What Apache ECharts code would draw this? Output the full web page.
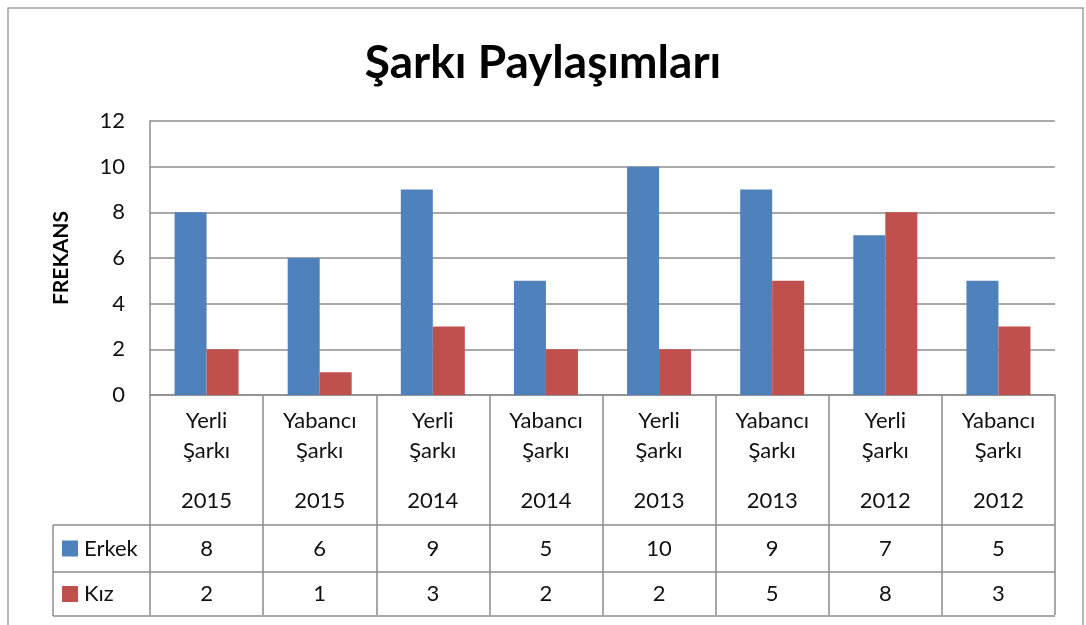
<!DOCTYPE html>
<html>
<head>
<meta charset="utf-8">
<script src="https://cdn.jsdelivr.net/npm/echarts@6/dist/echarts.min.js"></script>
<style>
  html, body { margin: 0; padding: 0; background: #ffffff; }
  #chart { width: 1086px; height: 625px; }
</style>
</head>
<body>
<div id="chart"></div>
<script>
// Song sharing counts by song type and year
const songTypes = ['Yerli', 'Yabancı', 'Yerli', 'Yabancı', 'Yerli', 'Yabancı', 'Yerli', 'Yabancı'];
const years = ['2015', '2015', '2014', '2014', '2013', '2013', '2012', '2012'];
const seriesNames = ['Erkek', 'Kız'];
const erkek = [8, 6, 9, 5, 10, 9, 7, 5];
const kiz = [2, 1, 3, 2, 2, 5, 8, 3];
const yTicks = [0, 2, 4, 6, 8, 10, 12];

const categories = songTypes.map((t, i) => t + '\nŞarkı\n\n' + years[i]);
const colors = ['#4F81BD', '#C0504D'];
const lineColor = '#8c8c8c';
const textColor = '#111111';
const font = 'Lato, "Noto Sans", sans-serif';

const chart = echarts.init(document.getElementById('chart'), null, { renderer: 'canvas' });

const option = {
  animation: false,
  backgroundColor: '#ffffff',
  title: {
    text: 'Şarkı Paylaşımları',
    left: 'center',
    top: 35,
    textStyle: { fontFamily: font, fontWeight: 'bold', fontSize: 46, color: '#000' }
  },
  grid: { left: 150, right: 31, top: 121, bottom: 230, containLabel: false },
  xAxis: {
    type: 'category',
    data: categories,
    axisLine: { show: true, lineStyle: { color: lineColor, width: 1.5 } },
    axisTick: { show: true, interval: 0, length: 220, lineStyle: { color: lineColor, width: 1.5 } },
    axisLabel: {
      interval: 0,
      margin: 11,
      formatter: function (v) {
        const p = v.split('\n');
        return '{a|' + p[0] + '}\n{a|' + p[1] + '}\n{b|}\n{a|' + p[3] + '}';
      },
      rich: {
        a: { fontFamily: font, fontSize: 22, lineHeight: 30, color: textColor, align: 'center' },
        b: { fontSize: 10, lineHeight: 20 }
      }
    }
  },
  yAxis: {
    type: 'value',
    min: yTicks[0],
    max: yTicks[yTicks.length - 1],
    interval: 2,
    name: 'FREKANS',
    nameLocation: 'middle',
    nameRotate: 90,
    nameGap: 78,
    nameTextStyle: { fontFamily: font, fontWeight: 'bold', fontSize: 21, color: '#000' },
    axisLine: { show: true, lineStyle: { color: lineColor, width: 1.5 } },
    axisTick: { show: false },
    axisLabel: { margin: 25, fontFamily: font, fontSize: 22, color: textColor },
    splitLine: { show: true, lineStyle: { color: lineColor, width: 1.5 } }
  },
  series: [
    { name: seriesNames[0], type: 'bar', data: erkek, barWidth: 32, barGap: '0%', itemStyle: { color: colors[0] } },
    { name: seriesNames[1], type: 'bar', data: kiz, barWidth: 32, barGap: '0%', itemStyle: { color: colors[1] } }
  ]
};

chart.setOption(option);

// Data table rows under the category axis, placed from the axis scale
const zeroY = chart.convertToPixel({ yAxisIndex: 0 }, 0);
const x0 = chart.convertToPixel({ xAxisIndex: 0 }, 0);
const colW = chart.convertToPixel({ xAxisIndex: 0 }, 1) - x0;
const plotLeft = x0 - colW / 2;
const plotRight = plotLeft + colW * categories.length;
const rowTop = zeroY + 130;
const rowH = [47, 44];
const legendLeft = 53;
const rows = [erkek, kiz];

const g = [];
// outer chart frame
g.push({ type: 'rect', shape: { x: 8, y: 8, width: 1075, height: 640 }, style: { fill: 'none', stroke: '#a0a0a0', lineWidth: 1.5 }, z: 0 });

let y = rowTop;
g.push({ type: 'line', shape: { x1: legendLeft, y1: y, x2: plotRight, y2: y }, style: { stroke: lineColor, lineWidth: 1.5 }, z: 10 });
rows.forEach((vals, r) => {
  const cy = y + rowH[r] / 2;
  g.push({ type: 'rect', shape: { x: 62, y: cy - 8, width: 16, height: 16 }, style: { fill: colors[r] }, z: 10 });
  g.push({ type: 'text', x: 84, y: cy, style: { text: seriesNames[r], font: '22px ' + font, fill: textColor, textVerticalAlign: 'middle', textAlign: 'left' }, z: 10 });
  vals.forEach((v, i) => {
    const cx = chart.convertToPixel({ xAxisIndex: 0 }, i);
    g.push({ type: 'text', x: cx, y: cy, style: { text: String(v), font: '22px ' + font, fill: textColor, textVerticalAlign: 'middle', textAlign: 'center' }, z: 10 });
  });
  y += rowH[r];
  g.push({ type: 'line', shape: { x1: legendLeft, y1: y, x2: plotRight, y2: y }, style: { stroke: lineColor, lineWidth: 1.5 }, z: 10 });
});
g.push({ type: 'line', shape: { x1: legendLeft, y1: rowTop, x2: legendLeft, y2: y }, style: { stroke: lineColor, lineWidth: 1.5 }, z: 10 });

chart.setOption({ graphic: g });
</script>
</body>
</html>
